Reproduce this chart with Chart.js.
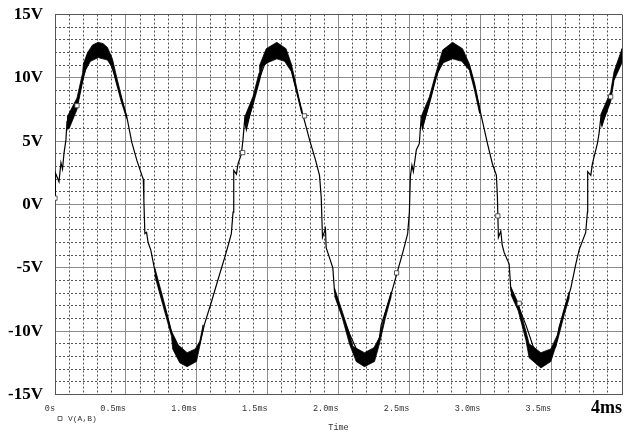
<!DOCTYPE html>
<html>
<head>
<meta charset="utf-8">
<title>V(A,B) transient</title>
<script src="https://cdn.jsdelivr.net/npm/chart.js@4.4.1/dist/chart.umd.min.js"></script>
<style>
  html, body { margin: 0; padding: 0; background: #fff; }
  #wrap { width: 641px; height: 432px; }
</style>
</head>
<body>
<div id="wrap"><canvas id="scope"></canvas></div>
<script>
// axis labels
const xTickLabels = ['0s', '0.5ms', '1.0ms', '1.5ms', '2.0ms', '2.5ms', '3.0ms', '3.5ms', '4ms'];
const yTickLabels = ['-15V', '-10V', '-5V', '0V', '5V', '10V', '15V'];

// main trace, time in ms / voltage in V
const traceT = [
  0.000, 0.003, 0.028, 0.042, 0.053, 0.063, 0.077, 0.085, 0.092, 0.155,
  0.197, 0.246, 0.303, 0.366, 0.423, 0.465, 0.507, 0.542, 0.577, 0.613,
  0.623, 0.627, 0.634, 0.646, 0.657, 0.676, 0.704, 0.739, 0.782, 0.824,
  0.880, 0.930, 0.986, 1.021, 1.056, 1.106, 1.148, 1.197, 1.225, 1.244,
  1.256, 1.261, 1.280, 1.291, 1.315, 1.326, 1.338, 1.350, 1.396, 1.444,
  1.500, 1.563, 1.627, 1.669, 1.690, 1.746, 1.796, 1.838, 1.866, 1.878,
  1.887, 1.908, 1.913, 1.960, 1.972, 2.028, 2.077, 2.134, 2.190, 2.246,
  2.289, 2.301, 2.371, 2.418, 2.458, 2.488, 2.500, 2.507, 2.518, 2.528,
  2.549, 2.570, 2.582, 2.592, 2.641, 2.690, 2.746, 2.803, 2.873, 2.923,
  2.958, 2.993, 3.021, 3.051, 3.086, 3.114, 3.121, 3.128, 3.145, 3.155,
  3.169, 3.204, 3.216, 3.268, 3.322, 3.373, 3.428, 3.486, 3.533, 3.556,
  3.599, 3.639, 3.674, 3.697, 3.744, 3.756, 3.758, 3.780, 3.791, 3.826,
  3.838, 3.850, 3.859, 3.920, 3.944, 4.000
];
const traceV = [
  0.5, 2.5, 1.8, 3.3, 2.8, 4.0, 5.1, 6.6, 6.0, 7.8,
  10.0, 11.8, 12.2, 12.0, 10.1, 8.5, 6.9, 4.9, 3.5, 2.3,
  2.0, 0.3, -2.3, -2.2, -3.0, -3.6, -5.2, -6.8, -8.4, -10.2,
  -11.6, -12.2, -11.7, -11.0, -9.4, -7.6, -6.0, -4.2, -3.1, -2.3,
  -0.6, 2.7, 2.4, 3.2, 4.0, 5.1, 6.7, 5.9, 8.1, 10.0,
  11.7, 12.2, 11.9, 10.6, 9.6, 7.2, 5.1, 3.5, 2.3, 0.6,
  -2.6, -1.9, -3.4, -5.0, -6.9, -8.8, -10.2, -11.6, -12.2, -11.7,
  -10.5, -9.5, -7.1, -5.2, -3.6, -2.3, -0.6, 2.2, 3.1, 2.6,
  4.3, 4.8, 6.7, 6.0, 8.1, 10.1, 11.7, 12.2, 11.9, 11.0,
  9.4, 7.7, 6.3, 4.8, 3.2, 2.3, 0.6, -2.6, -2.1, -3.2,
  -3.8, -4.7, -6.8, -8.0, -9.5, -11.2, -12.2, -11.7, -11.2, -9.7,
  -8.1, -6.6, -4.7, -3.6, -2.2, -0.6, 2.6, 2.3, 3.2, 4.8,
  5.6, 6.8, 6.2, 8.5, 10.1, 11.8
];

// ripple bands: outline of each thick region, [ms, V]
const bandPeak1 = [
  [0.085, 6.9], [0.155, 8.4], [0.195, 10.4], [0.200, 11.1], [0.230, 12.0], [0.265, 12.6],
  [0.305, 12.8], [0.340, 12.7], [0.370, 12.4], [0.405, 11.5], [0.430, 10.3], [0.465, 8.7], [0.500, 7.2],
  [0.505, 6.8], [0.465, 8.2], [0.425, 9.9], [0.410, 10.7], [0.370, 11.4], [0.305, 11.6],
  [0.250, 11.3], [0.215, 10.6], [0.195, 9.7], [0.155, 7.5], [0.100, 6.0], [0.085, 6.0]
];
const bandTrough1 = [
  [0.704, -5.6], [0.760, -7.9], [0.822, -10.4], [0.830, -11.4], [0.880, -12.5], [0.932, -12.8],
  [0.998, -12.4], [1.021, -11.2], [1.045, -9.9],
  [1.045, -9.5], [1.021, -10.8], [0.990, -11.4], [0.932, -11.7], [0.870, -11.1], [0.822, -10.0],
  [0.760, -7.3], [0.704, -5.0]
];
const bandPeak2 = [
  [1.338, 6.9], [1.396, 8.5], [1.440, 10.4], [1.444, 11.0], [1.490, 12.3], [1.565, 12.8],
  [1.630, 12.3], [1.667, 11.1], [1.690, 10.0], [1.737, 7.6],
  [1.740, 7.2], [1.690, 9.5], [1.667, 10.5], [1.620, 11.3], [1.565, 11.5], [1.500, 11.2],
  [1.465, 10.9], [1.444, 9.8], [1.396, 7.8], [1.345, 6.0]
];
const bandTrough2 = [
  [1.972, -7.2], [2.028, -9.0], [2.077, -11.0], [2.125, -12.4], [2.183, -12.8], [2.254, -12.4],
  [2.289, -11.0], [2.330, -9.0], [2.371, -7.3],
  [2.371, -6.9], [2.330, -8.5], [2.289, -10.5], [2.250, -11.3], [2.183, -11.7], [2.101, -11.2],
  [2.077, -10.2], [2.028, -8.5], [1.972, -6.6]
];
const bandPeak3 = [
  [2.582, 6.9], [2.641, 8.5], [2.690, 10.5], [2.735, 12.2], [2.805, 12.8], [2.875, 12.3],
  [2.923, 11.1], [2.960, 9.6], [2.993, 7.8],
  [2.995, 7.2], [2.958, 9.1], [2.923, 10.6], [2.870, 11.3], [2.805, 11.5], [2.740, 11.2],
  [2.699, 10.4], [2.641, 7.9], [2.590, 6.0]
];
const bandTrough3 = [
  [3.216, -7.1], [3.268, -8.4], [3.322, -10.7], [3.345, -12.1], [3.428, -12.9], [3.498, -12.4],
  [3.544, -10.8], [3.590, -8.8], [3.627, -7.4],
  [3.627, -6.9], [3.590, -8.3], [3.544, -10.3], [3.498, -11.4], [3.428, -11.7], [3.345, -11.0],
  [3.322, -10.0], [3.268, -7.8], [3.216, -6.5]
];
const bandEnd = [
  [3.850, 7.1], [3.920, 8.9], [3.944, 10.5], [4.000, 12.3],
  [4.000, 11.2], [3.944, 9.8], [3.920, 8.1], [3.855, 6.2]
];

// trace symbols
const markerT = [0.000, 0.155, 1.324, 1.760, 2.410, 3.124, 3.275, 3.920];
const markerV = [0.5, 7.8, 4.1, 7.0, -5.4, -0.9, -7.8, 8.5];

const toPts = (ts, vs) => ts.map((t, i) => ({ x: t, y: vs[i] }));
const outline = b => b.map(([t, v]) => ({ x: t, y: v }));
const onStep = (v, step) => Math.abs(v / step - Math.round(v / step)) < 1e-6;

const MONO = 'Liberation Mono';
const SERIF = 'Liberation Serif';
const MAJOR = '#8c8c8c';
const MINOR = '#555';
const FRAME = '#555';

// solid major grid, darker where it forms the plot frame
const majorColor = ctx => {
  const s = ctx.scale;
  return (ctx.tick.value === s.min || ctx.tick.value === s.max) ? FRAME : MAJOR;
};

const bands = [bandPeak1, bandTrough1, bandPeak2, bandTrough2, bandPeak3, bandTrough3, bandEnd]
  .map(b => ({
    label: 'ripple',
    data: outline(b),
    borderColor: '#000',
    backgroundColor: '#000',
    borderWidth: 0.8,
    fill: 'shape',
    pointRadius: 0,
    tension: 0
  }));

new Chart(document.getElementById('scope'), {
  type: 'line',
  data: {
    datasets: [
      {
        label: 'V(A,B)',
        data: toPts(traceT, traceV),
        borderColor: '#000',
        backgroundColor: '#fff',
        borderWidth: 1.2,
        pointRadius: 0,
        pointStyle: 'rect',
        fill: false,
        tension: 0
      },
      ...bands,
      {
        label: 'symbols',
        data: toPts(markerT, markerV),
        showLine: false,
        pointStyle: 'rect',
        pointRadius: 3,
        pointBorderWidth: 0.8,
        pointBorderColor: '#333',
        pointBackgroundColor: '#fff',
        order: -1
      }
    ]
  },
  options: {
    responsive: true,
    maintainAspectRatio: false,
    animation: false,
    events: [],
    layout: { padding: { top: 0, right: 19, bottom: 0, left: 0 } },
    scales: {
      x: {
        type: 'linear',
        min: 0,
        max: 4,
        ticks: {
          stepSize: 0.5,
          align: 'end',
          padding: 7,
          autoSkip: false,
          maxRotation: 0,
          callback: (v, i) => xTickLabels[i],
          color: ctx => ctx.index === xTickLabels.length - 1 ? '#000' : '#333',
          font: ctx => ctx.index === xTickLabels.length - 1
            ? { family: SERIF, size: 18, weight: 'bold', lineHeight: '14px' }
            : { family: MONO, size: 8.5, lineHeight: '14px' }
        },
        grid: { color: majorColor, drawTicks: false },
        border: { color: FRAME },
        afterFit: s => { s.height = 19; }
      },
      xMinor: {
        type: 'linear',
        position: 'bottom',
        min: 0,
        max: 4,
        ticks: { display: false, count: 41, autoSkip: false },
        grid: {
          drawTicks: false,
          color: ctx => onStep(ctx.tick.value, 0.5) ? 'rgba(0,0,0,0)' : MINOR
        },
        border: { display: false, dash: [2, 2] }
      },
      y: {
        type: 'linear',
        min: -15,
        max: 15,
        ticks: {
          stepSize: 5,
          padding: 12,
          callback: (v, i) => yTickLabels[i],
          color: '#000',
          // small line height keeps the label overflow from pushing the plot down
          font: { family: SERIF, size: 17, weight: 'bold', lineHeight: '5px' }
        },
        grid: { color: majorColor, drawTicks: false },
        border: { color: FRAME },
        afterFit: s => { s.width = 55; }
      },
      yMinor: {
        type: 'linear',
        position: 'left',
        min: -15,
        max: 15,
        ticks: { display: false, count: 31, autoSkip: false },
        grid: {
          drawTicks: false,
          color: ctx => onStep(ctx.tick.value, 5) ? 'rgba(0,0,0,0)' : MINOR
        },
        border: { display: false, dash: [2, 2] }
      }
    },
    plugins: {
      legend: {
        display: true,
        position: 'bottom',
        align: 'start',
        fullSize: false,
        maxHeight: 10,
        labels: {
          usePointStyle: true,
          boxHeight: 4,
          padding: 1,
          color: '#333',
          font: { family: MONO, size: 8 },
          filter: item => item.datasetIndex === 0,
          generateLabels: chart => Chart.defaults.plugins.legend.labels.generateLabels(chart)
            .map(item => Object.assign(item, { strokeStyle: '#444', lineWidth: 0.8, fillStyle: '#fff' }))
        }
      },
      title: {
        display: true,
        text: 'Time',
        position: 'bottom',
        fullSize: false,
        padding: 0,
        color: '#333',
        font: { family: MONO, size: 8.5, weight: 'normal', lineHeight: 1 }
      },
      tooltip: { enabled: false }
    }
  }
});
</script>
</body>
</html>
